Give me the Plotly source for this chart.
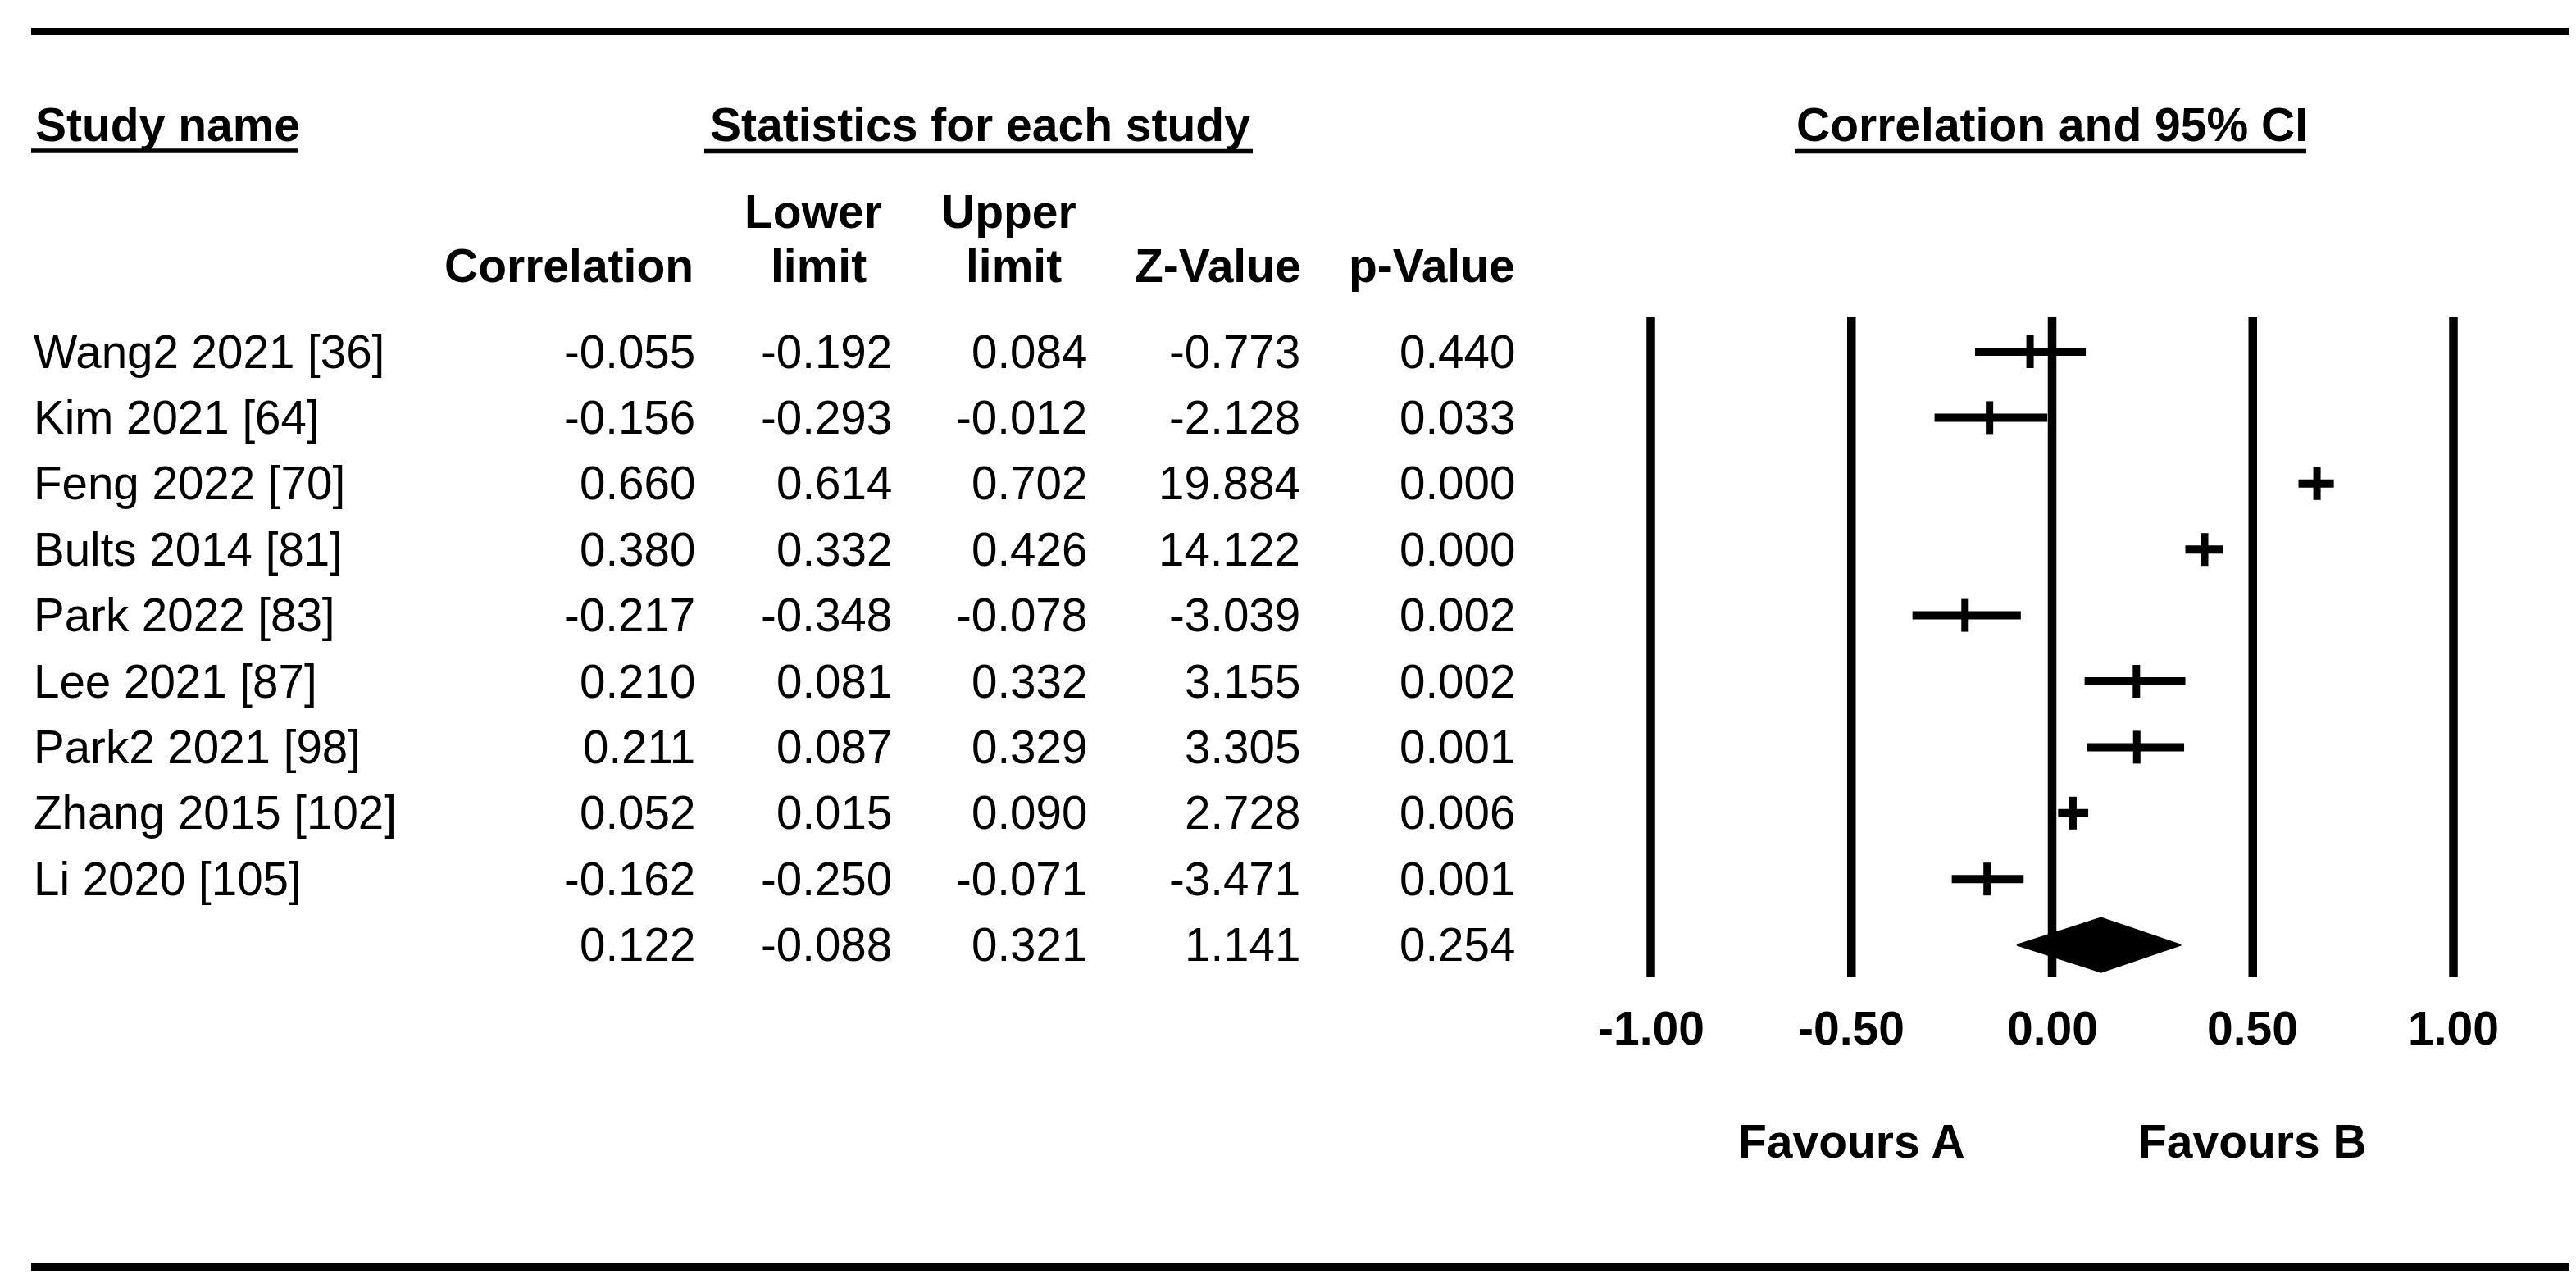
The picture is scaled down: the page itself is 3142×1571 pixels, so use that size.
import plotly.graph_objects as go

W, H = 3142, 1571

# ---------------- data ----------------
studies = ["Wang2 2021 [36]", "Kim 2021 [64]", "Feng 2022 [70]", "Bults 2014 [81]",
           "Park 2022 [83]", "Lee 2021 [87]", "Park2 2021 [98]", "Zhang 2015 [102]",
           "Li 2020 [105]"]
corr = [-0.055, -0.156, 0.660, 0.380, -0.217, 0.210, 0.211, 0.052, -0.162]
lower = [-0.192, -0.293, 0.614, 0.332, -0.348, 0.081, 0.087, 0.015, -0.250]
upper = [0.084, -0.012, 0.702, 0.426, -0.078, 0.332, 0.329, 0.090, -0.071]
zval = [-0.773, -2.128, 19.884, 14.122, -3.039, 3.155, 3.305, 2.728, -3.471]
pval = [0.440, 0.033, 0.000, 0.000, 0.002, 0.002, 0.001, 0.006, 0.001]

sum_corr = 0.122
sum_lower = -0.088
sum_upper = 0.321
sum_z = 1.141
sum_p = 0.254

tick_vals = [-1.0, -0.5, 0.0, 0.5, 1.0]
tick_labels = ["-1.00", "-0.50", "0.00", "0.50", "1.00"]
favour_labels = ["Favours A", "Favours B"]
favour_pos = [-0.5, 0.5]

# ---------------- geometry (pixels) ----------------
X0PX, UNIT = 2495, 489.5        # pixel of value 0, pixels per unit
ROW0PX, ROWH = 421, 80.4        # pixel of first row, row height
FONT = "Liberation Sans, Arial, sans-serif"
FS = 56.5
FSB = 57


def px2row(p):
    return (p - ROW0PX) / ROWH


def px2paper_x(p):
    return p / W


def px2paper_y(p):
    return 1 - p / H


n = len(studies)
sum_row = n

fig = go.Figure()

# vertical reference lines
line_top, line_bot = px2row(379), px2row(1184)
vx, vy = [], []
for v in tick_vals:
    vx += [v, v, None]
    vy += [line_top, line_bot, None]
fig.add_trace(go.Scatter(x=vx, y=vy, mode="lines",
                         line=dict(color="black", width=10.5), hoverinfo="skip"))

# CI lines
cx, cy = [], []
for i in range(n):
    cx += [lower[i], upper[i], None]
    cy += [i, i, None]
fig.add_trace(go.Scatter(x=cx, y=cy, mode="lines",
                         line=dict(color="black", width=10), hoverinfo="skip"))

# point estimate ticks
tx, ty = [], []
half = 20 / ROWH
for i in range(n):
    tx += [corr[i], corr[i], None]
    ty += [i - half, i + half, None]
fig.add_trace(go.Scatter(x=tx, y=ty, mode="lines",
                         line=dict(color="black", width=9), hoverinfo="skip"))

# summary diamond
dh = 33 / ROWH
fig.add_trace(go.Scatter(
    x=[sum_lower, sum_corr, sum_upper, sum_corr, sum_lower],
    y=[sum_row, sum_row - dh, sum_row, sum_row + dh, sum_row],
    mode="lines", fill="toself", fillcolor="black",
    line=dict(color="black", width=2), hoverinfo="skip"))

ann = []


def add_text(text, x, y, xanchor="left", xref="paper", yref="y", size=FS, bold=False):
    ann.append(dict(text=f"<b>{text}</b>" if bold else text, x=x, y=y,
                    xref=xref, yref=yref, xanchor=xanchor, yanchor="middle",
                    showarrow=False, borderpad=0, borderwidth=0,
                    font=dict(family=FONT, size=size, color="black")))


# column right edges (px)
col_r = [840, 1080, 1318, 1578, 1840]
rows_vals = [corr, lower, upper, zval, pval]
for i in range(n):
    add_text(studies[i], px2paper_x(33), i)
    for c, vals in enumerate(rows_vals):
        add_text(f"{vals[i]:.3f}", px2paper_x(col_r[c]), i, xanchor="right")
for c, v in enumerate([sum_corr, sum_lower, sum_upper, sum_z, sum_p]):
    add_text(f"{v:.3f}", px2paper_x(col_r[c]), sum_row, xanchor="right")

# headers
hy1 = px2row(144)
add_text("Study name", px2paper_x(35), hy1, bold=True, size=FSB)
add_text("Statistics for each study", px2paper_x(1187), hy1, xanchor="center", bold=True, size=FSB)
add_text("Correlation and 95% CI", px2paper_x(2495), hy1, xanchor="center", bold=True, size=FSB)

hy2, hy3 = px2row(250), px2row(316)
add_text("Correlation", px2paper_x(838), hy3, xanchor="right", bold=True, size=FSB)
add_text("Lower", px2paper_x(984), hy2, xanchor="center", bold=True, size=FSB)
add_text("limit", px2paper_x(990), hy3, xanchor="center", bold=True, size=FSB)
add_text("Upper", px2paper_x(1222), hy2, xanchor="center", bold=True, size=FSB)
add_text("limit", px2paper_x(1228), hy3, xanchor="center", bold=True, size=FSB)
add_text("Z-Value", px2paper_x(1579), hy3, xanchor="right", bold=True, size=FSB)
add_text("p-Value", px2paper_x(1840), hy3, xanchor="right", bold=True, size=FSB)

# axis tick labels and favours
for v, lab in zip(tick_vals, tick_labels):
    add_text(lab, v, px2row(1246), xanchor="center", xref="x", bold=True, size=FSB)
for v, lab in zip(favour_pos, favour_labels):
    add_text(lab, v, px2row(1384), xanchor="center", xref="x", bold=True, size=FSB)

shapes = []


def hline(x0, x1, y, w):
    shapes.append(dict(type="line", xref="paper", yref="paper",
                       x0=px2paper_x(x0), x1=px2paper_x(x1),
                       y0=px2paper_y(y), y1=px2paper_y(y),
                       line=dict(color="black", width=w)))


hline(30, W, 30.5, 9)
hline(30, W, 1537, 10)
hline(30, 355, 176, 5.5)
hline(851, 1520, 176.5, 5.5)
hline(2181, 2805, 176.5, 5.5)

fig.update_layout(
    width=W, height=H,
    margin=dict(l=0, r=0, t=0, b=0),
    paper_bgcolor="white", plot_bgcolor="white",
    showlegend=False,
    annotations=ann, shapes=shapes,
    xaxis=dict(range=[(0 - X0PX) / UNIT, (W - X0PX) / UNIT], domain=[0, 1],
               visible=False, fixedrange=True),
    yaxis=dict(range=[px2row(H), px2row(0)], domain=[0, 1],
               visible=False, fixedrange=True),
)

fig.write_html("out.html")
